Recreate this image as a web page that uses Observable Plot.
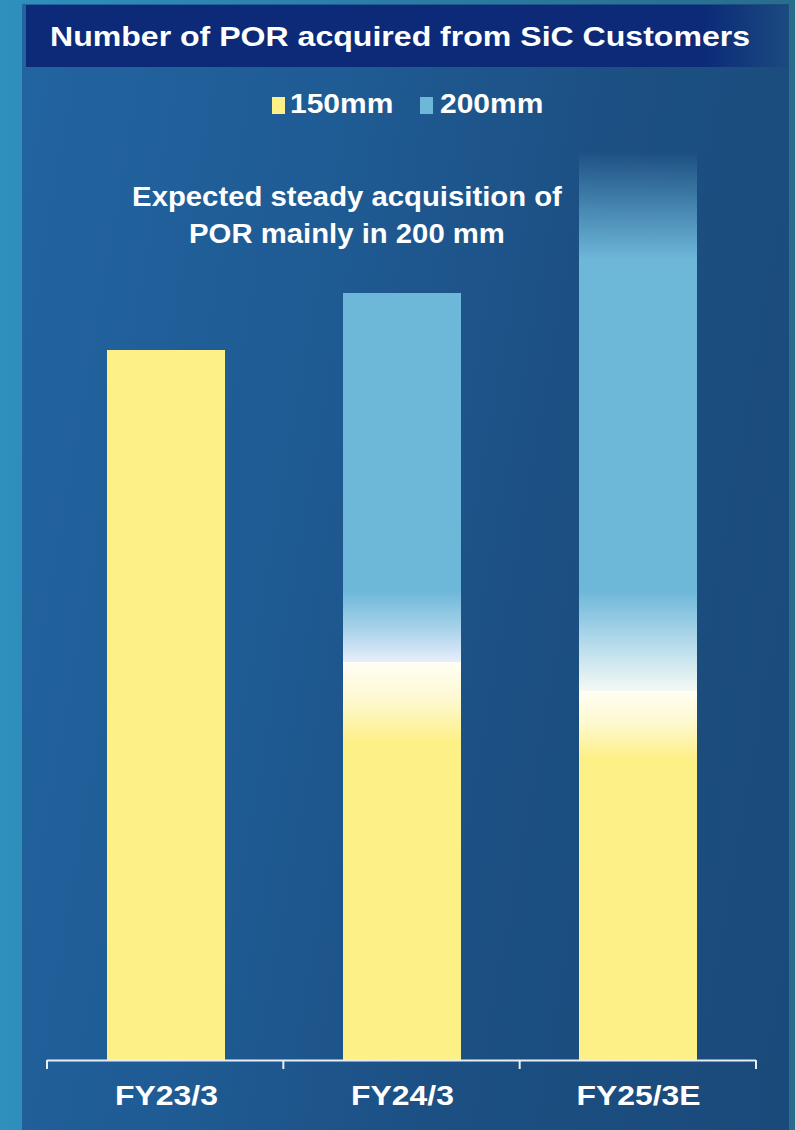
<!DOCTYPE html>
<html><head><meta charset="utf-8">
<script src="https://cdn.jsdelivr.net/npm/d3@7"></script>
<script src="https://cdn.jsdelivr.net/npm/@observablehq/plot@0.6"></script>
<style>
html,body{margin:0;padding:0;}
body{width:795px;height:1130px;overflow:hidden;background:linear-gradient(to right,#2f8fbd,#2c7ca5 50%,#296d8c);font-family:"Liberation Sans",Arial,sans-serif;font-weight:bold;color:#fff;}
#page{position:relative;width:795px;height:1130px;}
#panel{position:absolute;left:22px;top:4px;width:767px;height:1126px;background:linear-gradient(100deg,#2264a1 0%,#1f5b94 35%,#1c4f82 65%,#1a4a7a 100%);}
#titlebar{position:absolute;left:26px;top:5px;width:762px;height:62px;background:linear-gradient(to right,#0c2a78 0%,#0c2a78 89%,#1b4a7f 100%);}
.t{position:absolute;white-space:nowrap;font-size:28px;line-height:28px;transform-origin:0 0;}
.sw{position:absolute;width:13px;height:17px;}
#anno{position:absolute;left:47px;top:179px;width:600px;text-align:center;font-size:27px;line-height:37px;transform:scaleX(1.085);transform-origin:50% 0;}
#chart svg{position:absolute;left:0;top:130px;}
</style></head>
<body>
<div id="page">
  <div id="panel"></div>
  <div id="titlebar"></div>
  <div class="t" id="title" style="left:50px;top:23px;transform:scaleX(1.145);">Number of POR acquired from SiC Customers</div>
  <div class="sw" id="sw150" style="left:272px;top:97px;"></div>
  <div class="t" id="lab150" style="left:290px;top:90px;transform:scaleX(1.07);"></div>
  <div class="sw" id="sw200" style="left:420px;top:97px;"></div>
  <div class="t" id="lab200" style="left:440px;top:90px;transform:scaleX(1.07);"></div>
  <div id="anno">Expected steady acquisition of<br>POR mainly in 200 mm</div>
  <div id="chart"></div>
</div>
<script>
// ---- data ----
const categories = ["FY23/3", "FY24/3", "FY25/3E"];
const series = ["150mm", "200mm"];
const por150 = [100, 56, 52];
const por200 = [0, 52, 76];

// ---- styles ----
const YELLOW = "#fdf087";
const BLUE = "#6db7d9";
const fadeStyle = {
  "150mm": {
    "FY23/3": {top: null},
    "FY24/3": {top: {px: 80, color: "#fffef4"}},
    "FY25/3E": {top: {px: 68, color: "#fffef4"}}
  },
  "200mm": {
    "FY24/3": {bottom: {px: 72, mid: "#a9d3ea", color: "#e8effc"}},
    "FY25/3E": {fadeIn: 108, bottom: {px: 100, mid: "#b8dcec", color: "#f4f9f4"}}
  }
};

document.getElementById("sw150").style.background = YELLOW;
document.getElementById("sw200").style.background = BLUE;
document.getElementById("lab150").textContent = series[0];
document.getElementById("lab200").textContent = series[1];

const rows = [];
categories.forEach((c, i) => {
  [[series[0], por150[i]], [series[1], por200[i]]].forEach(([s, v], k) => {
    if (v > 0) rows.push({category: c, series: s, value: v, grad: `url(#g${i}_${k})`, id: `g${i}_${k}`});
  });
});

const boundaryTicks = (index, scales, values, dims) => {
  const g = d3.create("svg:g");
  const n = categories.length;
  const x0 = dims.marginLeft, x1 = dims.width - dims.marginRight;
  const step = (x1 - x0) / n;
  const y0 = scales.y(0);
  for (let i = 0; i <= n; i++) {
    g.append("line").attr("x1", x0 + i * step).attr("x2", x0 + i * step)
      .attr("y1", y0).attr("y2", y0 + 9)
      .attr("stroke", "#e8eef6").attr("stroke-width", 2);
  }
  return g.node();
};

const plot = Plot.plot({
  width: 795, height: 1000,
  marginLeft: 47, marginRight: 39, marginTop: 7, marginBottom: 70,
  style: {background: "transparent", color: "#fff", fontFamily: "Liberation Sans, Arial, sans-serif", fontWeight: "bold", overflow: "visible"},
  x: {domain: categories, paddingInner: 0.5, paddingOuter: 0.25, label: null},
  y: {domain: [0, 130], axis: null},
  color: {type: "identity"},
  marks: [
    Plot.barY(rows, {x: "category", y: "value", fill: "grad", shapeRendering: "crispEdges"}),
    Plot.ruleY([0], {stroke: "#e8eef6", strokeWidth: 2}),
    boundaryTicks,
    Plot.axisX({tickSize: 0, tickPadding: 25, fontSize: 28, fontWeight: "bold", label: null})
  ]
});

// gradients per bar segment, derived from the y scale
const ys = plot.scale("y");
const pxPerUnit = Math.abs(ys.apply(1) - ys.apply(0));
const defs = d3.select(plot).insert("defs", ":first-child");
rows.forEach(r => {
  const h = r.value * pxPerUnit;
  const st = (fadeStyle[r.series] || {})[r.category] || {};
  const base = r.series === "150mm" ? YELLOW : BLUE;
  const stops = [];
  if (r.series === "150mm") {
    if (st.top) {
      stops.push([0, st.top.color, 1]);
      stops.push([st.top.px * 0.45 / h, "#fef9d2", 1]);
      stops.push([st.top.px / h, base, 1]);
    } else stops.push([0, base, 1]);
    stops.push([1, base, 1]);
  } else {
    if (st.fadeIn) {
      stops.push([0, base, 0]);
      stops.push([st.fadeIn / h, base, 1]);
    } else stops.push([0, base, 1]);
    if (st.bottom) {
      stops.push([1 - st.bottom.px / h, base, 1]);
      stops.push([1 - st.bottom.px * 0.45 / h, st.bottom.mid, 1]);
      stops.push([1, st.bottom.color, 1]);
    } else stops.push([1, base, 1]);
  }
  const lg = defs.append("linearGradient").attr("id", r.id)
    .attr("x1", 0).attr("y1", 0).attr("x2", 0).attr("y2", 1);
  stops.forEach(([o, c, a]) => lg.append("stop").attr("offset", o).attr("stop-color", c).attr("stop-opacity", a));
});

// widen axis labels slightly to match the reference lettering
d3.select(plot).selectAll('g[aria-label="x-axis tick label"] text').each(function() {
  const t = this.getAttribute("transform") || "";
  this.setAttribute("transform", t + " scale(1.14,1)");
});

document.getElementById("chart").appendChild(plot);
</script>
</body></html>
